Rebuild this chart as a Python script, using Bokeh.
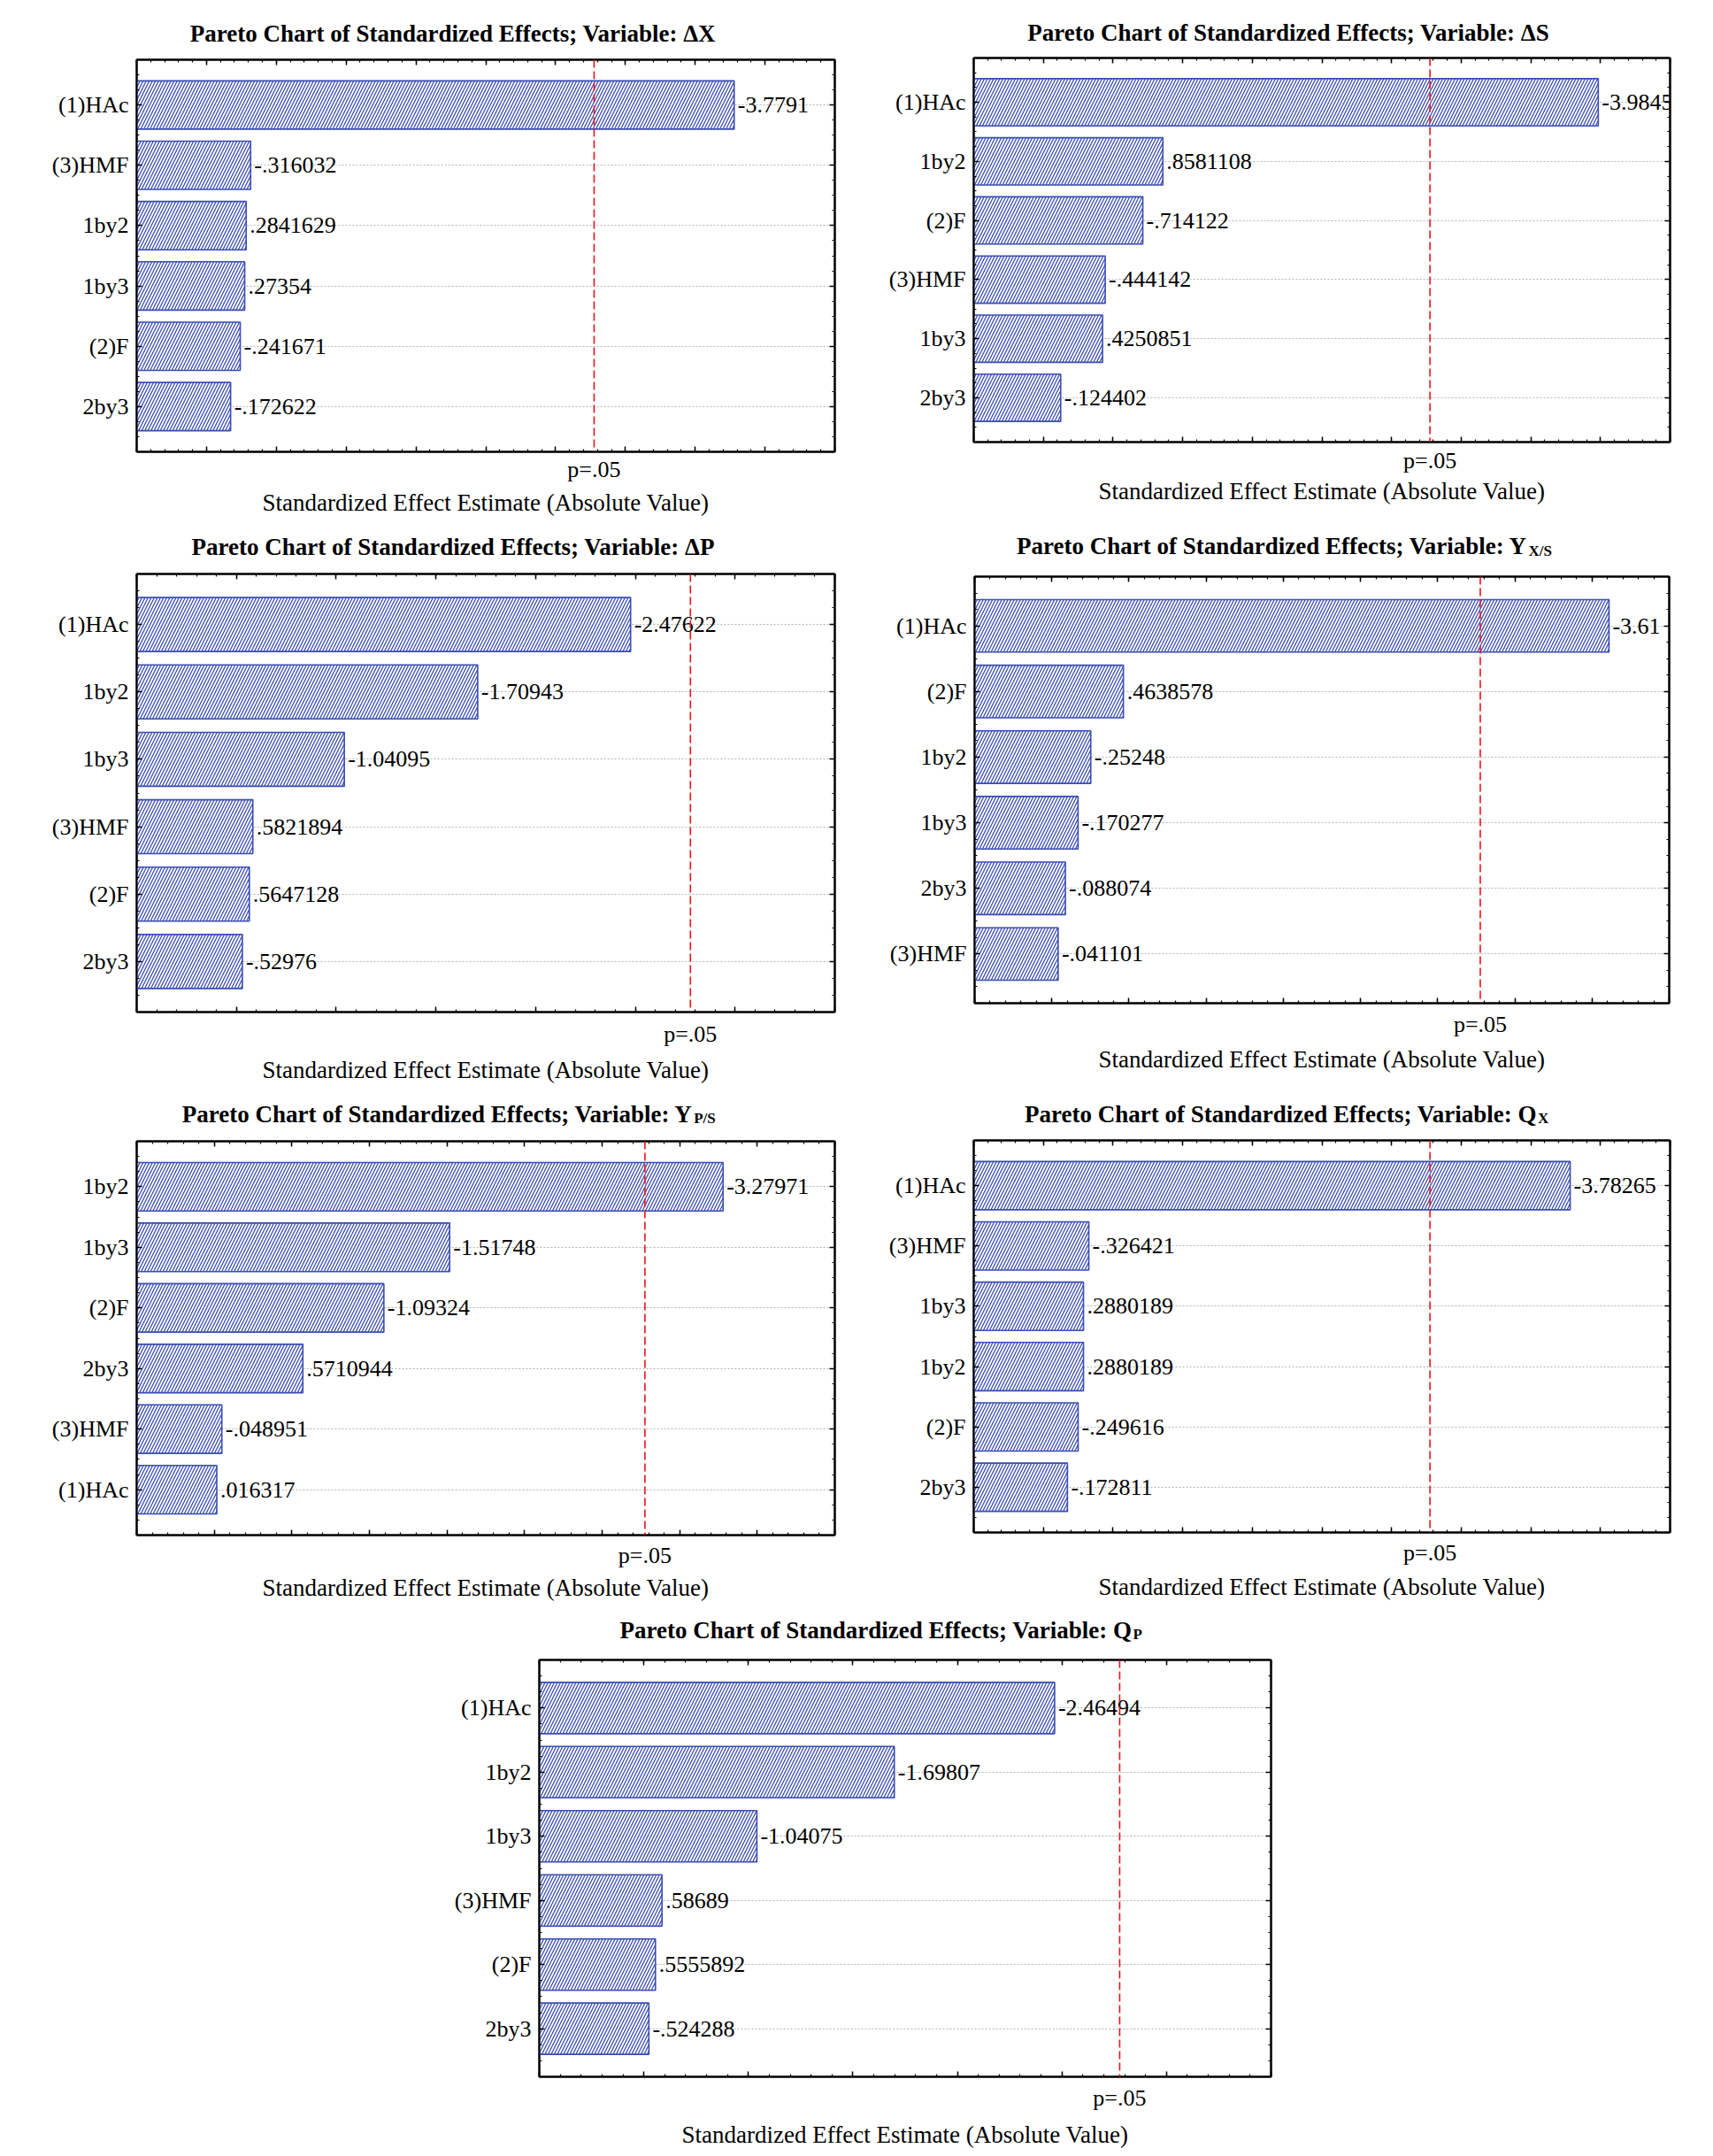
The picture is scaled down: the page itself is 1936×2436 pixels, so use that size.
import numpy as np
from bokeh.plotting import figure
from bokeh.models import (Range1d, FixedTicker, LinearAxis, Span,
                          ColumnDataSource, CustomJSTickFormatter,
                          CustomLabelingPolicy)
from bokeh.layouts import column, row
from bokeh.embed import file_html
from bokeh.resources import INLINE
from bokeh.core.properties import value

# ---------------- data ----------------
dx_terms = ["(1)HAc", "(3)HMF", "1by2", "1by3", "(2)F", "2by3"]
dx_effects = [-3.7791, -0.316032, 0.2841629, 0.27354, -0.241671, -0.172622]

ds_terms = ["(1)HAc", "1by2", "(2)F", "(3)HMF", "1by3", "2by3"]
ds_effects = [-3.9845, 0.8581108, -0.714122, -0.444142, 0.4250851, -0.124402]

dp_terms = ["(1)HAc", "1by2", "1by3", "(3)HMF", "(2)F", "2by3"]
dp_effects = [-2.47622, -1.70943, -1.04095, 0.5821894, 0.5647128, -0.52976]

yxs_terms = ["(1)HAc", "(2)F", "1by2", "1by3", "2by3", "(3)HMF"]
yxs_effects = [-3.61, 0.4638578, -0.25248, -0.170277, -0.088074, -0.041101]

yps_terms = ["1by2", "1by3", "(2)F", "2by3", "(3)HMF", "(1)HAc"]
yps_effects = [-3.27971, -1.51748, -1.09324, 0.5710944, -0.048951, 0.016317]

qx_terms = ["(1)HAc", "(3)HMF", "1by3", "1by2", "(2)F", "2by3"]
qx_effects = [-3.78265, -0.326421, 0.2880189, 0.2880189, -0.249616, -0.172811]

qp_terms = ["(1)HAc", "1by2", "1by3", "(3)HMF", "(2)F", "2by3"]
qp_effects = [-2.46494, -1.69807, -1.04075, 0.58689, 0.5555892, -0.524288]

t_crit = 2.776          # p = .05 critical value
p_label = "p=.05"
title_main = "Pareto Chart of Standardized Effects; Variable: "
x_title = "Standardized Effect Estimate (Absolute Value)"

# ---------------- style ----------------
SERIF = "Liberation Serif"
BLUE = "#3b4db5"
FS = "26px"
HIDE = "for (const i of indices) { indices.unset(i) }\nreturn indices"


def fmt(v):
    s = repr(v)
    if s.startswith("-0."):
        s = "-" + s[2:]
    elif s.startswith("0."):
        s = s[1:]
    return s


def title_fig(fw, bl, br, height, var, sub, tend, tbase):
    t = figure(frame_width=fw, frame_height=height,
               x_range=Range1d(0, fw), y_range=Range1d(height, 0),
               min_border_left=bl, min_border_right=br, min_border_top=0,
               min_border_bottom=0, x_axis_location=None, y_axis_location=None,
               output_backend="svg", toolbar_location=None,
               background_fill_color="white", border_fill_color="white")
    t.outline_line_color = None
    t.grid.visible = False
    t.text(x=[tend], y=[tbase], text=[title_main + var], text_align="right",
           text_baseline="alphabetic", text_font=value(SERIF),
           text_font_style="bold", text_font_size="27px", text_color="black")
    if sub:
        t.text(x=[tend + 1], y=[tbase + 5], text=[sub], text_align="left",
               text_baseline="alphabetic", text_font=value(SERIF),
               text_font_style="bold", text_font_size="17px", text_color="black")
    return t


def pareto(terms, effects, x_lo, x_hi, fw, fh, bl, br, bt, bb, pstand, astand):
    n = len(terms)
    y_lo, y_hi = -0.75, n - 1 + 0.75
    idx = list(range(n))
    mag = [abs(v) for v in effects]
    src = ColumnDataSource(dict(y=idx, left=[x_lo] * n, right=mag,
                                label=[fmt(v) for v in effects]))
    p = figure(frame_width=fw, frame_height=fh, min_border_left=bl,
               min_border_right=br, min_border_top=bt, min_border_bottom=bb,
               x_range=Range1d(x_lo, x_hi), y_range=Range1d(y_hi, y_lo),
               output_backend="svg", toolbar_location=None,
               background_fill_color="white", border_fill_color="white")
    p.outline_line_color = "black"
    p.outline_line_width = 2

    xt = FixedTicker(ticks=[round(v, 3) for v in np.arange(x_lo, x_hi + 1e-9, 0.5)],
                     minor_ticks=[round(v, 3) for v in np.arange(x_lo, x_hi + 1e-9, 0.1)])
    yt = FixedTicker(ticks=idx,
                     minor_ticks=[round(v, 3) for v in np.arange(y_lo, y_hi + 1e-9, 0.25)])

    def style_axis(ax, hide_labels=True):
        ax.axis_line_color = "black"
        ax.axis_line_width = 2
        ax.major_tick_in = 6
        ax.major_tick_out = 0
        ax.minor_tick_in = 3
        ax.minor_tick_out = 0
        ax.major_tick_line_color = "black"
        ax.minor_tick_line_color = "black"
        ax.major_tick_line_width = 1.5
        ax.minor_tick_line_width = 1.2
        if hide_labels:
            ax.major_label_text_font_size = "0px"
            ax.major_label_standoff = 0
            ax.major_label_policy = CustomLabelingPolicy(code=HIDE)

    xa = p.xaxis[0]
    xa.ticker = xt
    style_axis(xa)

    ya = p.yaxis[0]
    ya.ticker = yt
    style_axis(ya, hide_labels=False)
    ya.major_label_overrides = {i: t for i, t in enumerate(terms)}
    ya.major_label_text_font = SERIF
    ya.major_label_text_font_size = FS
    ya.major_label_text_color = "black"
    ya.major_label_standoff = 9

    top = LinearAxis(ticker=xt)
    style_axis(top)
    p.add_layout(top, "above")
    right = LinearAxis(ticker=yt)
    style_axis(right)
    p.add_layout(right, "right")

    pax = LinearAxis(ticker=FixedTicker(ticks=[t_crit], minor_ticks=[]),
                     formatter=CustomJSTickFormatter(code="return '%s';" % p_label))
    pax.axis_line_color = None
    pax.major_tick_line_color = None
    pax.minor_tick_line_color = None
    pax.major_tick_in = 0
    pax.major_tick_out = 0
    pax.major_label_standoff = pstand
    pax.major_label_text_font = SERIF
    pax.major_label_text_font_size = FS
    pax.major_label_text_color = "black"
    pax.axis_label = x_title
    pax.axis_label_standoff = astand
    pax.axis_label_text_font = SERIF
    pax.axis_label_text_font_size = "27px"
    pax.axis_label_text_font_style = "normal"
    pax.axis_label_text_color = "black"
    p.add_layout(pax, "below")

    p.xgrid.visible = False
    p.ygrid.ticker = FixedTicker(ticks=idx)
    p.ygrid.grid_line_color = "#b4b4b4"
    p.ygrid.grid_line_dash = "2 2"
    p.ygrid.grid_line_width = 1

    p.hbar(y="y", left="left", right="right", height=0.8, source=src,
           fill_color="white", line_color=BLUE, line_width=1.6,
           hatch_pattern="/", hatch_color=BLUE, hatch_scale=7, hatch_weight=1.3)
    p.text(x="right", y="y", text="label", source=src, x_offset=4,
           text_baseline="middle", text_align="left",
           text_font=value(SERIF), text_font_size=FS, text_color="black")

    p.add_layout(Span(location=t_crit, dimension="height", line_color="#e8141c",
                      line_dash="9 4", line_width=1.6))
    return p


def panel(terms, effects, x_lo, x_hi, var, sub, width, fw, fh, bl, bt, bb,
          tend, tbase, pstand, astand):
    th = bt - 8
    br = width - bl - fw
    t = title_fig(fw, bl, br, th, var, sub, tend - bl, tbase - 9)
    p = pareto(terms, effects, x_lo, x_hi, fw, fh, bl, br, 8, bb,
               pstand, astand)
    return column(t, p)


c1 = panel(dx_terms, dx_effects, -0.5, 4.5, "\u0394X", None,
           968, 789, 443, 154, 67, 82, 808.6, 46.7, 5, 5)
c2 = panel(ds_terms, ds_effects, -0.5, 4.5, "\u0394S", None,
           964, 787, 434, 132, 65, 93, 1750.7 - 968, 45.5, 6, 2)
c3 = panel(dp_terms, dp_effects, 0.0, 3.5, "\u0394P", None,
           968, 789, 495, 154, 56, 85, 807.4, 34, 10, 8)
c4 = panel(yxs_terms, yxs_effects, -0.5, 4.0, "Y", "X/S",
           964, 785, 482, 133, 59, 95, 1726 - 968, 33.7, 9, 7)
c5 = panel(yps_terms, yps_effects, -0.5, 4.0, "Y", "P/S",
           968, 789, 445, 154, 61, 88, 782.7, 39, 8, 4)
c6 = panel(qx_terms, qx_effects, -0.5, 4.5, "Q", "X",
           964, 787, 443, 132, 60, 91, 1736.5 - 968, 39, 8, 6)
c7 = panel(qp_terms, qp_effects, 0.0, 3.5, "Q", "P",
           1932, 827, 471, 609, 53, 82, 1279, 28, 9, 9)

layout = column(row(c1, c2), row(c3, c4), row(c5, c6), c7)

with open("out.html", "w") as f:
    f.write(file_html(layout, INLINE))
